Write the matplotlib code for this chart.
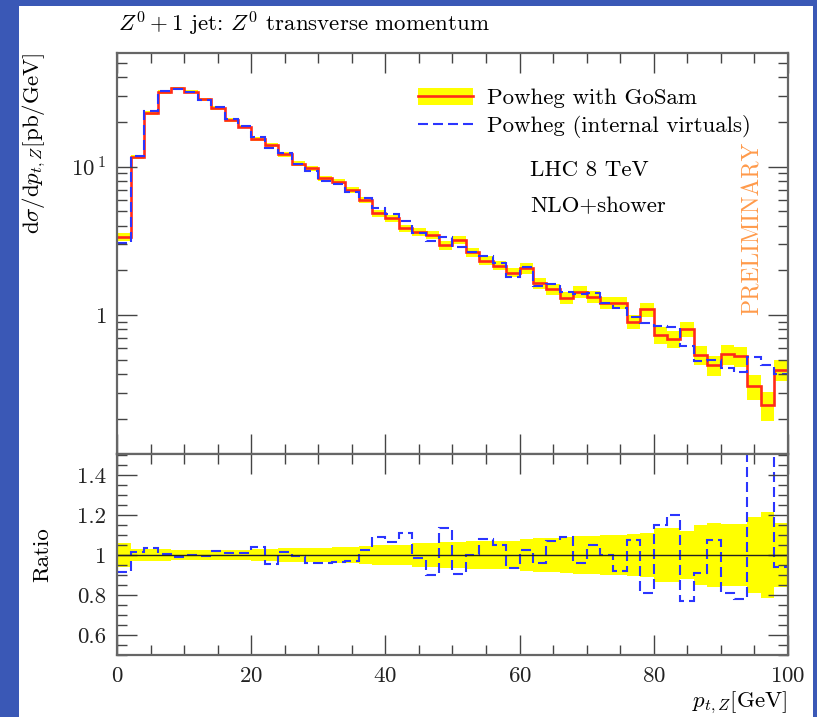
import numpy as np
import matplotlib.pyplot as plt
from matplotlib.patches import Rectangle, Patch
from matplotlib.lines import Line2D
from matplotlib.ticker import MultipleLocator, FixedLocator, LogLocator, NullFormatter

# Computer Modern look
plt.rcParams['font.family'] = 'serif'
plt.rcParams['font.serif'] = ['cmr10']
plt.rcParams['mathtext.fontset'] = 'cm'
plt.rcParams['axes.formatter.use_mathtext'] = True
plt.rcParams['axes.unicode_minus'] = False

# binning (2 GeV bins)
bin_edges = np.arange(0, 102, 2)

# Powheg with GoSam, dsigma/dpt [pb/GeV]
gosam = np.array([3.35, 11.6, 22.9, 32.1, 33.8, 32.1, 28.5, 24.8, 20.7, 18.6,
                  15.3, 14.0, 12.1, 10.5, 9.75, 8.35, 7.93, 6.97, 5.96, 4.85,
                  4.49, 3.85, 3.65, 3.48, 2.95, 3.2, 2.64, 2.32, 2.15, 1.93,
                  2.06, 1.64, 1.50, 1.31, 1.44, 1.33, 1.21, 1.21, 0.90, 1.09,
                  0.733, 0.686, 0.805, 0.537, 0.46, 0.543, 0.528, 0.332, 0.247, 0.426])

# relative uncertainty of the GoSam band
gosam_err = np.array([0.058, 0.03, 0.03, 0.03, 0.027, 0.027, 0.027, 0.027, 0.027, 0.027,
                      0.03, 0.03, 0.035, 0.035, 0.037, 0.037, 0.04, 0.04, 0.045, 0.05,
                      0.05, 0.052, 0.06, 0.062, 0.065, 0.065, 0.068, 0.07, 0.07, 0.072,
                      0.08, 0.083, 0.085, 0.092, 0.095, 0.095, 0.1, 0.1, 0.105, 0.108,
                      0.133, 0.133, 0.12, 0.148, 0.158, 0.155, 0.153, 0.19, 0.217, 0.158])

# Powheg (internal virtuals) / Powheg with GoSam
virt_ratio = np.array([0.917, 1.017, 1.037, 1.003, 0.988, 1.0, 0.995, 1.02, 1.012, 1.012,
                       1.042, 0.953, 1.017, 0.995, 0.958, 0.958, 0.967, 0.97, 1.025, 1.09,
                       1.065, 1.11, 0.985, 0.9, 1.135, 0.905, 1.0, 1.078, 1.05, 0.933,
                       1.025, 0.962, 1.072, 1.09, 0.958, 1.052, 1.0, 0.92, 1.077, 0.812,
                       1.148, 1.202, 0.768, 0.912, 1.077, 0.812, 0.779, 1.58, 1.86, 0.94])

virt = gosam * virt_ratio

red = '#ff2a1a'
blue = '#2b35ff'
yellow = '#ffff00'
frame = '#666666'
fs = 16.5

fig = plt.figure(figsize=(8.17, 7.17), dpi=100, facecolor='#3a58b6')
fig.patches.append(Rectangle((19 / 817, 0), 794 / 817, 711 / 717,
                             transform=fig.transFigure, facecolor='white',
                             edgecolor='none', zorder=-1))

ax1 = fig.add_axes([0.1436, 0.3668, 0.8205, 0.5597])
ax2 = fig.add_axes([0.1436, 0.0865, 0.8205, 0.2803], sharex=ax1)

# --- main panel
ax1.stairs(gosam * (1 + gosam_err), bin_edges, baseline=gosam * (1 - gosam_err),
           fill=True, color=yellow, lw=0)
ax1.stairs(gosam, bin_edges, baseline=None, color=red, lw=1.9)
ax1.stairs(virt, bin_edges, baseline=None, color=blue, lw=1.5, ls=(0, (4.8, 2.4)))

ax1.set_yscale('log')
ax1.set_xlim(0, 100)
ax1.set_ylim(0.1155, 58.7)
ax1.yaxis.set_major_locator(FixedLocator([1, 10]))
ax1.set_yticklabels(['$1$', '$10^{\\,1}$'])
ax1.yaxis.set_minor_locator(LogLocator(base=10, subs=np.arange(2, 10)))
ax1.yaxis.set_minor_formatter(NullFormatter())
plt.setp(ax1.get_xticklabels(), visible=False)

leg_handles = [(Patch(facecolor=yellow, edgecolor='none'), Line2D([], [], color=red, lw=1.9)),
               Line2D([], [], color=blue, lw=1.5, ls=(0, (4.8, 2.4)))]
ax1.legend(leg_handles, ['Powheg with GoSam', 'Powheg (internal virtuals)'],
           loc='upper left', bbox_to_anchor=(0.4485, 0.913), frameon=False,
           borderpad=0, borderaxespad=0, handlelength=2.4, handletextpad=0.6,
           labelspacing=0.3, fontsize=fs, handleheight=0.8)

ax1.text(0.6156, 0.7077, 'LHC 8 TeV', transform=ax1.transAxes, fontsize=fs,
         ha='left', va='center')
ax1.text(0.6156, 0.6162, 'NLO+shower', transform=ax1.transAxes, fontsize=fs,
         ha='left', va='center')
ax1.text(0.948, 0.563, 'PRELIMINARY', transform=ax1.transAxes, fontsize=17,
         rotation=90, ha='center', va='center', color='#ff9a4a')

# --- ratio panel
ax2.stairs(1 + gosam_err, bin_edges, baseline=1 - gosam_err, fill=True, color=yellow, lw=0)
ax2.axhline(1, color='#222222', lw=1.0)
ax2.stairs(virt_ratio, bin_edges, baseline=None, color=blue, lw=1.5, ls=(0, (4.8, 2.4)))
ax2.set_ylim(0.5, 1.505)
ax2.yaxis.set_major_locator(FixedLocator([0.6, 0.8, 1.0, 1.2, 1.4]))
ax2.set_yticklabels(['0.6', '0.8', '1', '1.2', '1.4'])
ax2.yaxis.set_minor_locator(MultipleLocator(0.05))
ax2.xaxis.set_major_locator(MultipleLocator(20))
ax2.xaxis.set_minor_locator(MultipleLocator(5))

for ax in (ax1, ax2):
    for sp in ax.spines.values():
        sp.set_color(frame)
        sp.set_linewidth(1.6)
    ax.tick_params(which='both', direction='in', top=True, right=True,
                   color='#444444', labelsize=fs, labelcolor='#222222')
    ax.tick_params(which='major', length=14.5, width=1.0, pad=8)
    ax.tick_params(which='minor', length=7, width=1.0)
ax2.tick_params(axis='x', pad=8)

# --- labels
fig.text(118 / 817, 1 - 24 / 717, r'$Z^0+1$ jet: $Z^0$ transverse momentum',
         fontsize=fs, ha='left', va='center')
fig.text(34 / 817, 0.9265, r'd$\sigma$/d$p_{t,Z}$[pb/GeV]', fontsize=fs,
         rotation=90, ha='center', va='top')
fig.text(42 / 817, 1 - 555 / 717, 'Ratio', fontsize=fs, rotation=90,
         ha='center', va='center')
fig.text(787 / 817, 1 - 703 / 717, r'$p_{t,Z}$[GeV]', fontsize=fs,
         ha='right', va='center')

fig.savefig('out.png', dpi=100, facecolor=fig.get_facecolor())
